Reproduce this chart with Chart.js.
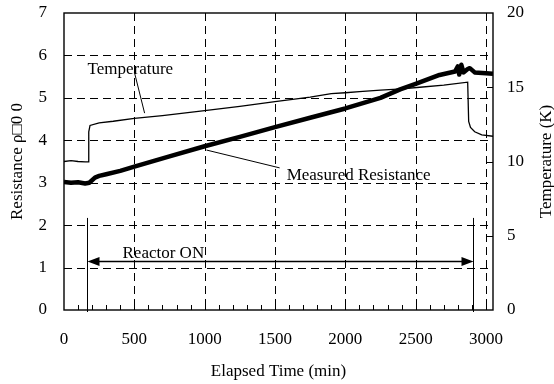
<!DOCTYPE html>
<html><head><meta charset="utf-8">
<script src="https://cdn.jsdelivr.net/npm/chart.js@4.4.1/dist/chart.umd.min.js"></script>
<style>html,body{margin:0;padding:0;background:#fff}#wrap{width:554px;height:384px;position:relative}</style>
</head><body><div id="wrap"><canvas id="c" width="554" height="384"></canvas></div>
<script>
// ---- data ----
const xTickValues = [0, 500, 1000, 1500, 2000, 2500, 3000];
const leftTickValues = [0, 1, 2, 3, 4, 5, 6, 7];
const rightTickValues = [0, 5, 10, 15, 20];

// Temperature (K), right axis
const tempTime = [0, 50, 100, 150, 172, 176, 185, 250, 350, 500, 700, 1000, 1250, 1500, 1750, 1900, 2000, 2100, 2250, 2400, 2530, 2700, 2870, 2877, 2890, 2920, 2970, 3050];
const tempK    = [10.0, 10.06, 10.0, 9.97, 9.97, 12.0, 12.43, 12.6, 12.71, 12.91, 13.09, 13.42, 13.71, 14.03, 14.34, 14.57, 14.63, 14.71, 14.8, 14.89, 15.0, 15.14, 15.34, 12.7, 12.3, 12.0, 11.8, 11.7];

// Measured resistance, left axis
const resTime  = [0, 50, 100, 150, 180, 220, 250, 300, 400, 500, 750, 1000, 1250, 1500, 1750, 2000, 2250, 2390, 2500, 2670, 2780, 2800, 2810, 2825, 2840, 2870, 2885, 2920, 3000, 3050];
const resValue = [3.02, 3.0, 3.01, 2.98, 3.0, 3.12, 3.16, 3.2, 3.28, 3.38, 3.62, 3.86, 4.08, 4.31, 4.53, 4.75, 5.0, 5.2, 5.33, 5.54, 5.62, 5.74, 5.55, 5.78, 5.6, 5.68, 5.7, 5.6, 5.58, 5.57];

// Annotation anchors (data units)
const reactorOn = [160, 2905];

const FONT = 'Liberation Serif, Times New Roman, serif';

const overlay = {
  id: 'overlay',
  beforeDatasetsDraw(chart) {
    const {ctx, chartArea: a, scales: {x, y, y2}} = chart;
    ctx.save();
    ctx.strokeStyle = '#000';
    ctx.lineWidth = 1;
    ctx.setLineDash([8, 5]);
    xTickValues.forEach(v => {
      if (v === 0) return;
      const px = Math.round(x.getPixelForValue(v)) + 0.5;
      ctx.beginPath(); ctx.moveTo(px, a.top); ctx.lineTo(px, a.bottom); ctx.stroke();
    });
    leftTickValues.forEach(v => {
      if (v === 0 || v === 7) return;
      const py = Math.round(y.getPixelForValue(v)) + 0.5;
      ctx.beginPath(); ctx.moveTo(a.left, py); ctx.lineTo(a.right, py); ctx.stroke();
    });
    ctx.setLineDash([]);
    // minor ticks on bottom axis (every 100), inward
    for (let v = 100; v <= 3000; v += 100) {
      const px = Math.round(x.getPixelForValue(v)) + 0.5;
      ctx.beginPath(); ctx.moveTo(px, a.bottom); ctx.lineTo(px, a.bottom - 5); ctx.stroke();
    }
    // right axis ticks, inward
    rightTickValues.forEach(v => {
      if (v === 0 || v === 20) return;
      const py = Math.round(y2.getPixelForValue(v)) + 0.5;
      ctx.beginPath(); ctx.moveTo(a.right, py); ctx.lineTo(a.right - 6, py); ctx.stroke();
    });
    ctx.restore();
  },
  afterDatasetsDraw(chart) {
    const {ctx, chartArea: a, scales: {x, y}} = chart;
    ctx.save();
    ctx.strokeStyle = '#000';
    ctx.fillStyle = '#000';
    // frame
    ctx.lineWidth = 1.4;
    ctx.strokeRect(a.left, a.top, a.right - a.left, a.bottom - a.top);
    // leader lines
    ctx.lineWidth = 1;
    const P = (t, v) => [x.getPixelForValue(t), y.getPixelForValue(v)];
    let p1 = P(500, 5.61), p2 = P(573, 4.64);
    ctx.beginPath(); ctx.moveTo(...p1); ctx.lineTo(...p2); ctx.stroke();
    p1 = P(1013, 3.77); p2 = P(1533, 3.35);
    ctx.beginPath(); ctx.moveTo(...p1); ctx.lineTo(...p2); ctx.stroke();
    // Reactor ON
    const xl = Math.round(x.getPixelForValue(reactorOn[0])) + 0.5;
    const xr = Math.round(x.getPixelForValue(reactorOn[1])) + 0.5;
    const yTop = y.getPixelForValue(2.17);
    const yArr = Math.round(y.getPixelForValue(1.155)) + 0.5;
    ctx.lineWidth = 1;
    ctx.beginPath(); ctx.moveTo(xl, yTop); ctx.lineTo(xl, a.bottom + 2); ctx.stroke();
    ctx.beginPath(); ctx.moveTo(xr, yTop); ctx.lineTo(xr, a.bottom + 2); ctx.stroke();
    ctx.lineWidth = 1.6;
    ctx.beginPath(); ctx.moveTo(xl + 6, yArr); ctx.lineTo(xr - 6, yArr); ctx.stroke();
    ctx.beginPath(); ctx.moveTo(xl, yArr); ctx.lineTo(xl + 12, yArr - 4.5); ctx.lineTo(xl + 12, yArr + 4.5); ctx.closePath(); ctx.fill();
    ctx.beginPath(); ctx.moveTo(xr, yArr); ctx.lineTo(xr - 12, yArr - 4.5); ctx.lineTo(xr - 12, yArr + 4.5); ctx.closePath(); ctx.fill();
    // labels
    ctx.font = '17px ' + FONT;
    ctx.textBaseline = 'middle';
    ctx.textAlign = 'left';
    ctx.fillText('Temperature', ...P(167, 5.66));
    ctx.fillText('Measured Resistance', ...P(1583, 3.18));
    ctx.fillText('Reactor ON', ...P(416, 1.33));
    // axis titles
    ctx.textAlign = 'center';
    const cy = (a.top + a.bottom) / 2;
    ctx.fillText('Elapsed Time (min)', (a.left + a.right) / 2, 372);
    ctx.save(); ctx.translate(18, cy); ctx.rotate(-Math.PI / 2);
    ctx.fillText('Resistance ρ\u25A10 0', 0, 0); ctx.restore();
    ctx.save(); ctx.translate(547, cy); ctx.rotate(-Math.PI / 2);
    ctx.fillText('Temperature (K)', 0, 0); ctx.restore();
    ctx.restore();
  }
};

const tickFont = {family: FONT, size: 17};
const plain = v => String(v);
const noGrid = {display: false, drawTicks: false, tickLength: 0};
new Chart(document.getElementById('c'), {
  type: 'line',
  data: {
    datasets: [
      {label: 'Temperature', data: tempTime.map((t, i) => ({x: t, y: tempK[i]})), yAxisID: 'y2',
       borderColor: '#000', borderWidth: 1.3, pointRadius: 0, tension: 0, fill: false},
      {label: 'Measured Resistance', data: resTime.map((t, i) => ({x: t, y: resValue[i]})), yAxisID: 'y',
       borderColor: '#000', borderWidth: 4.5, borderJoinStyle: 'round', pointRadius: 0, tension: 0, fill: false}
    ]
  },
  options: {
    responsive: false, animation: false, devicePixelRatio: 1,
    layout: {padding: {top: 13, left: 0, right: 0, bottom: 0}},
    plugins: {legend: {display: false}, tooltip: {enabled: false}},
    scales: {
      x: {type: 'linear', position: 'bottom', min: 0, max: 3050,
          afterBuildTicks: s => { s.ticks = xTickValues.map(v => ({value: v})); },
          ticks: {font: tickFont, color: '#000', padding: 19, maxRotation: 0, autoSkip: false, callback: plain},
          grid: noGrid, border: {display: false},
          afterFit: s => { s.height = 74; s.paddingLeft = 0; s.paddingRight = 0; }},
      y: {type: 'linear', position: 'left', min: 0, max: 7,
          afterBuildTicks: s => { s.ticks = leftTickValues.map(v => ({value: v})); },
          ticks: {font: tickFont, color: '#000', padding: 17, callback: plain},
          grid: noGrid, border: {display: false},
          afterFit: s => { s.width = 64; s.paddingTop = 0; s.paddingBottom = 0; }},
      y2: {type: 'linear', position: 'right', min: 0, max: 20,
          afterBuildTicks: s => { s.ticks = rightTickValues.map(v => ({value: v})); },
          ticks: {font: tickFont, color: '#000', padding: 14, callback: plain},
          grid: noGrid, border: {display: false},
          afterFit: s => { s.width = 61; s.paddingTop = 0; s.paddingBottom = 0; }}
    }
  },
  plugins: [overlay]
});
</script>
</body></html>
